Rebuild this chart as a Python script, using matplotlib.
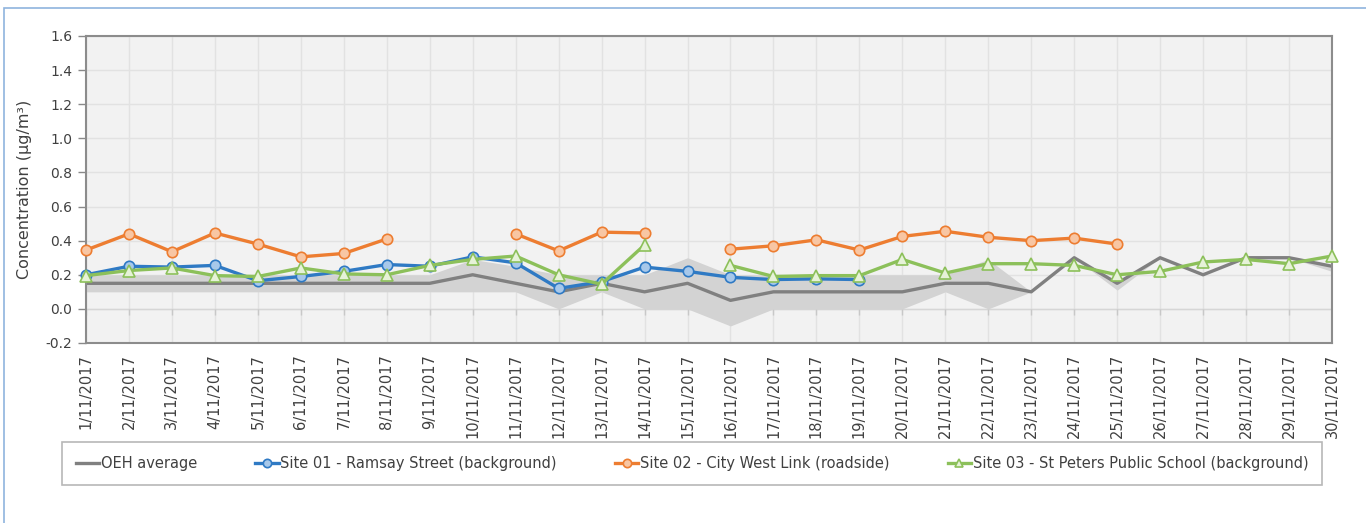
import numpy as np
import matplotlib
matplotlib.use("Agg")
import matplotlib.pyplot as plt
from matplotlib.patches import Rectangle

nan = np.nan

# data, one value per day of November 2017
days = np.arange(1, 31)
date_labels = [f"{d}/11/2017" for d in days]

oeh_avg = [0.15, 0.15, 0.15, 0.15, 0.15, 0.15, 0.15, 0.15, 0.15, 0.20,
           0.15, 0.10, 0.15, 0.10, 0.15, 0.05, 0.10, 0.10, 0.10, 0.10,
           0.15, 0.15, 0.10, 0.30, 0.15, 0.30, 0.20, 0.30, 0.30, 0.25]
oeh_min = [0.10, 0.10, 0.10, 0.10, 0.10, 0.10, 0.10, 0.10, 0.10, 0.10,
           0.10, 0.00, 0.10, 0.00, 0.00, -0.10, 0.00, 0.00, 0.00, 0.00,
           0.10, 0.00, 0.10, 0.30, 0.11, 0.30, 0.20, 0.30, 0.30, 0.22]
oeh_max = [0.20, 0.20, 0.20, 0.20, 0.20, 0.20, 0.20, 0.20, 0.20, 0.29,
           0.25, 0.20, 0.20, 0.20, 0.30, 0.20, 0.20, 0.20, 0.20, 0.20,
           0.20, 0.29, 0.10, 0.30, 0.15, 0.30, 0.20, 0.30, 0.30, 0.25]

site01 = [0.20, 0.25, 0.245, 0.255, 0.165, 0.19, 0.22, 0.26, 0.25, 0.305,
          0.27, 0.12, 0.16, 0.245, 0.22, 0.185, 0.172, 0.176, 0.172, nan,
          nan, nan, nan, nan, nan, nan, nan, nan, nan, nan]
site02 = [0.345, 0.44, 0.335, 0.445, 0.38, 0.305, 0.325, 0.41, nan, nan,
          0.44, 0.34, 0.45, 0.445, nan, 0.35, 0.37, 0.405, 0.345, 0.425,
          0.455, 0.42, 0.40, 0.415, 0.38, nan, nan, nan, nan, nan]
site03 = [0.195, 0.225, 0.24, 0.195, 0.19, 0.24, 0.205, 0.20, 0.255, 0.29,
          0.31, 0.20, 0.145, 0.375, nan, 0.255, 0.19, 0.195, 0.195, 0.29,
          0.21, 0.265, 0.265, 0.255, 0.20, 0.22, 0.275, 0.29, 0.265, 0.31]

y_ticks = [-0.2, 0.0, 0.2, 0.4, 0.6, 0.8, 1.0, 1.2, 1.4, 1.6]

plt.rcParams['font.family'] = ['DejaVu Sans']
text_col = '#404040'

fig = plt.figure(figsize=(13.66, 5.23), dpi=100)
fig.patches.append(Rectangle((4/1366, -0.1), 1.2, 1.1 - 8/523, transform=fig.transFigure,
                             fill=False, edgecolor='#8fb4de', lw=1.2))
ax = fig.add_axes([86/1366, 1 - 343/523, 1246/1366, 307/523])
ax.set_facecolor('#f2f2f2')

ax.set_xlim(1, 30)
ax.set_ylim(-0.2, 1.6)
ax.set_yticks(y_ticks)
ax.set_yticklabels([f"{v:.1f}" for v in y_ticks], fontsize=10, color=text_col)
ax.set_xticks(days)
ax.set_xticklabels(date_labels, rotation=90, fontsize=10.5, color=text_col)
ax.tick_params(axis='x', length=0, pad=8)
ax.tick_params(axis='y', length=6, width=1, color='#898989', pad=4)
ax.grid(True, color='#e2e2e2', lw=1)
ax.set_axisbelow(True)
for s in ax.spines.values():
    s.set_color('#8c8c8c')
    s.set_linewidth(1.5)

ax.set_ylabel("Concentration (µg/m³)", fontsize=11.5, color=text_col)
ax.yaxis.set_label_coords(-0.043, 0.5)

# zero line with small category ticks
ax.axhline(0, color='#d6d6d6', lw=1, zorder=1)
ax.plot(days, np.zeros(len(days)), ls='none', marker=3, ms=4, color='#c8c8c8', zorder=1)

ax.fill_between(days, oeh_min, oeh_max, color='#d3d3d3', lw=0, zorder=1.5)
ax.plot(days, oeh_avg, color='#808080', lw=2.4, label='OEH average', zorder=2)

series = [
    (site01, 'Site 01 - Ramsay Street (background)', '#2f7ac4', '#a7c8ea', 'o'),
    (site02, 'Site 02 - City West Link (roadside)', '#ed7d31', '#f8c6a3', 'o'),
    (site03, 'Site 03 - St Peters Public School (background)', '#8cc05a', '#e6f2d8', '^'),
]
for vals, name, col, face, mk in series:
    ax.plot(days, vals, color=col, lw=2.4, marker=mk, ms=7.5 if mk == 'o' else 8,
            mfc=face, mec=col, mew=1.2, label=name, clip_on=False, zorder=3)

leg = ax.legend(loc='lower left', bbox_to_anchor=(62/1366, 38/523, 1260/1366, 42/523),
                bbox_transform=fig.transFigure, mode='expand', ncol=4, fontsize=10.5,
                frameon=True, fancybox=False, edgecolor='#a6a6a6', handlelength=1.6,
                handletextpad=0.1, borderaxespad=0, borderpad=0.95, markerscale=0.8)
leg.get_frame().set_linewidth(1.2)
for t in leg.get_texts():
    t.set_color(text_col)

fig.savefig('out.png', dpi=100)
